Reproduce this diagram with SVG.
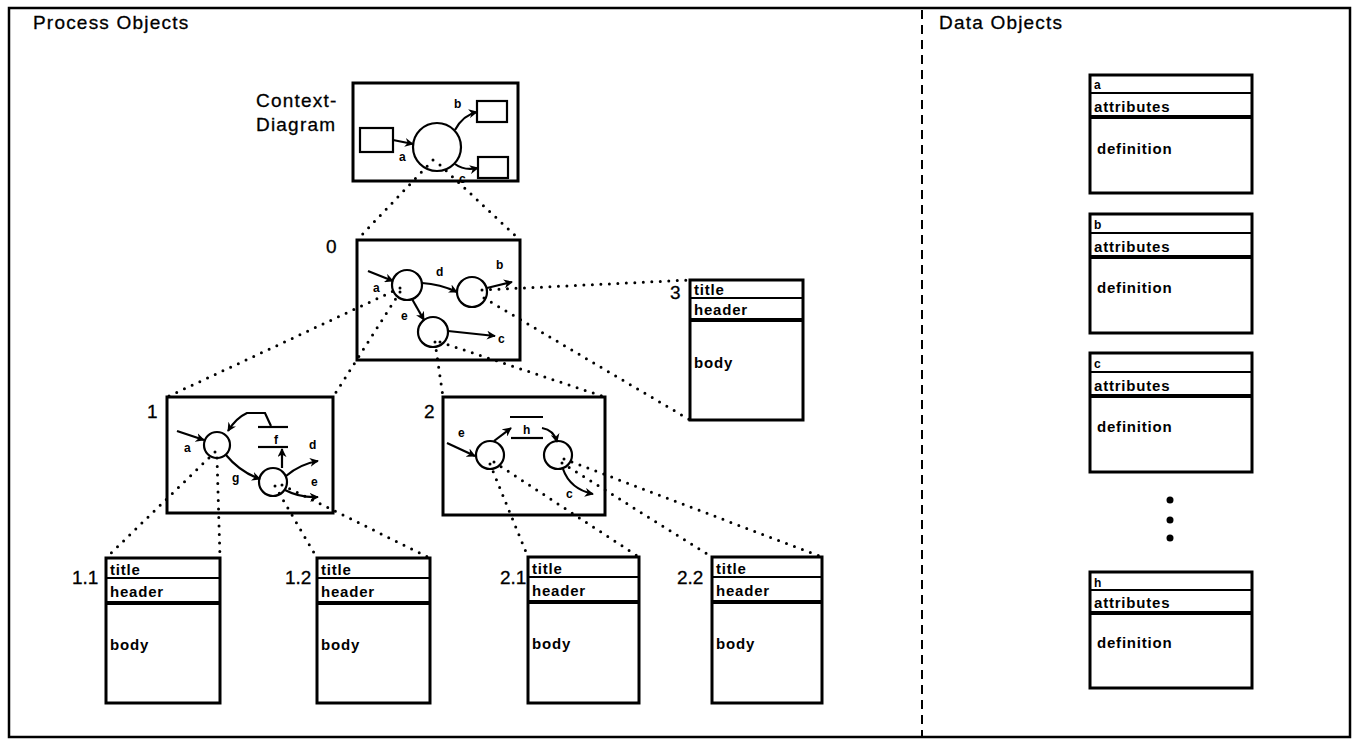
<svg xmlns="http://www.w3.org/2000/svg" width="1358" height="743" viewBox="0 0 1358 743">
<style>
text{font-family:"Liberation Sans",Arial,Helvetica,sans-serif;fill:#000}
.h{font-size:19px;letter-spacing:1.2px;stroke:#000;stroke-width:0.3}
.n{font-size:19px;stroke:#000;stroke-width:0.3}
.t{font-size:15px;font-weight:bold;letter-spacing:0.8px}
.l{font-size:12px;font-weight:bold}
.bx{fill:#fff;stroke:#000;stroke-width:3}
.ln{fill:none;stroke:#000;stroke-width:2}
.thk{fill:none;stroke:#000;stroke-width:4}
.fl{fill:none;stroke:#000;stroke-width:2.2}
.ar{fill:none;stroke:#000;stroke-width:2.2;marker-end:url(#ah)}
.dot{fill:none;stroke:#000;stroke-width:3;stroke-dasharray:0 8.5;stroke-linecap:round}
</style>
<defs>
<marker id="ah" viewBox="0 0 10 10" refX="9" refY="5" markerWidth="9" markerHeight="9" markerUnits="userSpaceOnUse" orient="auto">
<path d="M0,0 L10,5 L0,10 L3,5 z" fill="#000"/>
</marker>
</defs>
<rect width="1358" height="743" fill="#fff"/>
<g id="frame">
<rect x="9" y="8" width="1341" height="729" fill="none" stroke="#000" stroke-width="2.5"/>
<line x1="922" y1="10" x2="922" y2="737" stroke="#000" stroke-width="2" stroke-dasharray="9 6"/>
<text class="h" x="33" y="29">Process Objects</text>
<text class="h" x="939" y="29">Data Objects</text>
</g>

<g id="connectors">
<path class="dot" d="M433,160 L357,240"/>
<path class="dot" d="M440,165 L520,240"/>
<path class="dot" d="M400,288 L167,397"/>
<path class="dot" d="M400,292 L333,397"/>
<path class="dot" d="M435,342 L443,397"/>
<path class="dot" d="M440,342 L605,397"/>
<path class="dot" d="M482,290 L690,280"/>
<path class="dot" d="M484,298 L690,420"/>
<path class="dot" d="M215,452 L106,558"/>
<path class="dot" d="M217,458 L220,558"/>
<path class="dot" d="M275,486 L317,558"/>
<path class="dot" d="M282,485 L430,558"/>
<path class="dot" d="M490,464 L528,557"/>
<path class="dot" d="M494,462 L639,557"/>
<path class="dot" d="M562,463 L712,557"/>
<path class="dot" d="M564,459 L822,557"/>
</g>

<g id="context">
<text class="h" x="256" y="107">Context-</text>
<text class="h" x="256" y="131">Diagram</text>
<rect class="bx" x="353" y="83" width="165" height="98" style="fill:none"/>
<rect class="fl" x="360" y="128" width="33" height="24"/>
<rect class="fl" x="477" y="101" width="30" height="21"/>
<rect class="fl" x="478" y="157" width="30" height="21"/>
<circle class="fl" cx="437" cy="147" r="24"/>
<path class="ar" d="M393,140 L413,144"/>
<path class="ar" d="M455,130 Q463,115 477,112"/>
<path class="ar" d="M455,164 Q464,171 478,168"/>
<text class="l" x="454" y="108">b</text>
<text class="l" x="399" y="161">a</text>
<text class="l" x="459" y="183">c</text>
</g>

<g id="p0">
<text class="n" x="326" y="253">0</text>
<rect class="bx" x="357" y="240" width="163" height="120" style="fill:none"/>
<circle class="fl" cx="407" cy="285" r="15"/>
<circle class="fl" cx="472" cy="292" r="15"/>
<circle class="fl" cx="433" cy="332" r="15"/>
<path class="ar" d="M368,271 L393,281"/>
<path class="ar" d="M422,283 Q440,284 457,292"/>
<path class="ar" d="M487,288 L512,282"/>
<path class="ar" d="M412,299 L424,320"/>
<path class="ar" d="M448,331 L495,336"/>
<text class="l" x="373" y="292">a</text>
<text class="l" x="436" y="276">d</text>
<text class="l" x="496" y="269">b</text>
<text class="l" x="401" y="320">e</text>
<text class="l" x="498" y="343">c</text>
</g>

<g id="p1">
<text class="n" x="147" y="418">1</text>
<rect class="bx" x="167" y="397" width="166" height="116" style="fill:none"/>
<circle class="fl" cx="217" cy="445" r="13"/>
<circle class="fl" cx="273" cy="482" r="14"/>
<line class="fl" x1="258" y1="427" x2="288" y2="427"/>
<line class="fl" x1="258" y1="447" x2="288" y2="447"/>
<text class="l" x="274" y="444">f</text>
<path class="ar" d="M271,426 L265,413 L247,413 Q236,418 228,431"/>
<path class="ar" d="M282,468 L282,449"/>
<path class="ar" d="M177,431 L204,440"/>
<path class="ar" d="M226,455 Q240,472 260,479"/>
<path class="ar" d="M286,476 Q300,464 318,461"/>
<path class="ar" d="M285,490 Q300,498 318,497"/>
<text class="l" x="184" y="452">a</text>
<text class="l" x="232" y="482">g</text>
<text class="l" x="309" y="449">d</text>
<text class="l" x="311" y="486">e</text>
</g>

<g id="p2">
<text class="n" x="424" y="418">2</text>
<rect class="bx" x="443" y="397" width="162" height="118" style="fill:none"/>
<circle class="fl" cx="490" cy="455" r="14"/>
<circle class="fl" cx="558" cy="455" r="14"/>
<line class="fl" x1="510" y1="417" x2="543" y2="417"/>
<line class="fl" x1="511" y1="438" x2="543" y2="438"/>
<text class="l" x="523" y="434">h</text>
<path class="ar" d="M447,443 L475,456"/>
<path class="ar" d="M494,441 L511,428"/>
<path class="ar" d="M542,428 Q554,430 557,442"/>
<path class="ar" d="M563,469 Q570,489 593,494"/>
<text class="l" x="458" y="437">e</text>
<text class="l" x="566" y="498">c</text>
</g>

<g id="p3">
<text class="n" x="670" y="299">3</text>
<rect class="bx" x="690" y="280" width="113" height="140"/>
<line class="ln" x1="690" y1="298" x2="803" y2="298"/>
<line class="thk" x1="690" y1="320" x2="803" y2="320"/>
<text class="t" x="694" y="295">title</text>
<text class="t" x="694" y="315">header</text>
<text class="t" x="694" y="368">body</text>
</g>

<g id="p11">
<text class="n" x="72" y="584">1.1</text>
<rect class="bx" x="106" y="558" width="114" height="145"/>
<line class="ln" x1="106" y1="578" x2="220" y2="578"/>
<line class="thk" x1="106" y1="603" x2="220" y2="603"/>
<text class="t" x="110" y="575">title</text>
<text class="t" x="110" y="597">header</text>
<text class="t" x="110" y="650">body</text>
</g>

<g id="p12">
<text class="n" x="285" y="584">1.2</text>
<rect class="bx" x="317" y="558" width="113" height="145"/>
<line class="ln" x1="317" y1="578" x2="430" y2="578"/>
<line class="thk" x1="317" y1="603" x2="430" y2="603"/>
<text class="t" x="321" y="575">title</text>
<text class="t" x="321" y="597">header</text>
<text class="t" x="321" y="650">body</text>
</g>

<g id="p21">
<text class="n" x="500" y="584">2.1</text>
<rect class="bx" x="528" y="557" width="111" height="146"/>
<line class="ln" x1="528" y1="577" x2="639" y2="577"/>
<line class="thk" x1="528" y1="602" x2="639" y2="602"/>
<text class="t" x="532" y="574">title</text>
<text class="t" x="532" y="596">header</text>
<text class="t" x="532" y="649">body</text>
</g>

<g id="p22">
<text class="n" x="677" y="584">2.2</text>
<rect class="bx" x="712" y="557" width="110" height="146"/>
<line class="ln" x1="712" y1="577" x2="822" y2="577"/>
<line class="thk" x1="712" y1="602" x2="822" y2="602"/>
<text class="t" x="716" y="574">title</text>
<text class="t" x="716" y="596">header</text>
<text class="t" x="716" y="649">body</text>
</g>

<g id="da">
<rect class="bx" x="1090" y="75" width="162" height="118"/>
<line class="ln" x1="1090" y1="93" x2="1252" y2="93"/>
<line class="thk" x1="1090" y1="117" x2="1252" y2="117"/>
<text class="l" x="1094" y="89">a</text>
<text class="t" x="1094" y="112">attributes</text>
<text class="t" x="1097" y="154">definition</text>
</g>

<g id="db">
<rect class="bx" x="1090" y="214" width="162" height="119"/>
<line class="ln" x1="1090" y1="233" x2="1252" y2="233"/>
<line class="thk" x1="1090" y1="257" x2="1252" y2="257"/>
<text class="l" x="1094" y="229">b</text>
<text class="t" x="1094" y="252">attributes</text>
<text class="t" x="1097" y="293">definition</text>
</g>

<g id="dc">
<rect class="bx" x="1090" y="353" width="162" height="119"/>
<line class="ln" x1="1090" y1="372" x2="1252" y2="372"/>
<line class="thk" x1="1090" y1="396" x2="1252" y2="396"/>
<text class="l" x="1094" y="368">c</text>
<text class="t" x="1094" y="391">attributes</text>
<text class="t" x="1097" y="432">definition</text>
</g>

<g id="ellipsis">
<circle cx="1170" cy="500" r="3.5" fill="#000"/>
<circle cx="1170" cy="520" r="3.5" fill="#000"/>
<circle cx="1170" cy="538" r="3.5" fill="#000"/>
</g>

<g id="dh">
<rect class="bx" x="1090" y="572" width="162" height="116"/>
<line class="ln" x1="1090" y1="590" x2="1252" y2="590"/>
<line class="thk" x1="1090" y1="613" x2="1252" y2="613"/>
<text class="l" x="1094" y="587">h</text>
<text class="t" x="1094" y="608">attributes</text>
<text class="t" x="1097" y="648">definition</text>
</g>
</svg>
